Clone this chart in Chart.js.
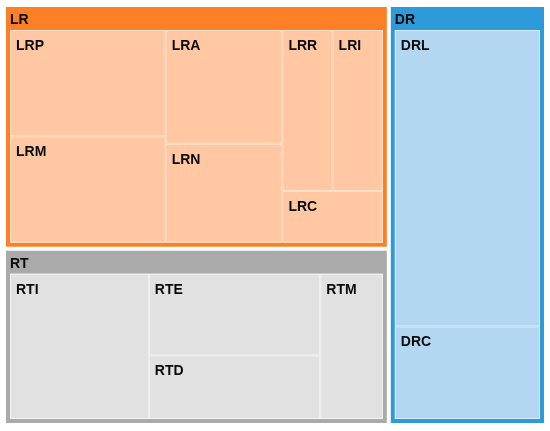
<!DOCTYPE html>
<html>
<head>
<meta charset="utf-8">
<title>Treemap</title>
<script src="https://cdn.jsdelivr.net/npm/chart.js@4.4.1/dist/chart.umd.min.js"></script>
<style>
  html, body { margin: 0; padding: 0; background: #fff; }
  #wrap { width: 550px; height: 431px; }
</style>
</head>
<body>
<div id="wrap"><canvas id="treemapChart"></canvas></div>
<script>
// dados do treemap
const groups = ['LR', 'RT', 'DR'];
const leafNames = ['LRP', 'LRM', 'LRA', 'LRN', 'LRR', 'LRI', 'LRC', 'RTI', 'RTE', 'RTD', 'RTM', 'DRL', 'DRC'];
const leafGroups = ['LR', 'LR', 'LR', 'LR', 'LR', 'LR', 'LR', 'RT', 'RT', 'RT', 'RT', 'DR', 'DR'];
const leafValues = [86, 86, 69, 60, 42, 42, 27, 111, 77, 60, 50, 221, 69];

// cores por grupo
const groupColors = { LR: '#fe8026', RT: '#aaaaaa', DR: '#2d9bda' };
const leafColors = { LR: '#ffc8a2', RT: '#e1e1e1', DR: '#b3d7f1' };
const leafBorders = { LR: '#ffe2cf', RT: '#f3f3f3', DR: '#d8ebf8' };

const RATIO = (1 + Math.sqrt(5)) / 2;

// squarified layout (proporcao aurea)
function squarify(nodes, x0, y0, x1, y1) {
    nodes = nodes.slice().sort((a, b) => b.value - a.value);
    let value = nodes.reduce((s, n) => s + n.value, 0);
    let i0 = 0, i1 = 0;
    while (i0 < nodes.length) {
        const dx = x1 - x0, dy = y1 - y0;
        const len = Math.min(dx, dy);
        const f = len * len * RATIO;
        const scale = dx * dy / value;
        let sum = nodes[i1++].value * scale;
        let min = sum, max = sum;
        let best = Math.max(f * max / (sum * sum), (sum * sum) / (f * min));
        for (; i1 < nodes.length; i1++) {
            const a = nodes[i1].value * scale;
            const s = sum + a;
            const mn = Math.min(min, a), mx = Math.max(max, a);
            const score = Math.max(f * mx / (s * s), (s * s) / (f * mn));
            if (score > best) break;
            sum = s; min = mn; max = mx; best = score;
        }
        const row = nodes.slice(i0, i1);
        const rowValue = row.reduce((s, n) => s + n.value, 0);
        if (dx < dy) {
            const yb = y0 + dy * rowValue / value;
            let x = x0;
            row.forEach(n => {
                const w = dx * n.value / rowValue;
                n.rect = { x0: x, y0: y0, x1: x + w, y1: yb };
                x += w;
            });
            y0 = yb;
        } else {
            const xb = x0 + dx * rowValue / value;
            let y = y0;
            row.forEach(n => {
                const h = dy * n.value / rowValue;
                n.rect = { x0: x0, y0: y, x1: xb, y1: y + h };
                y += h;
            });
            x0 = xb;
        }
        value -= rowValue;
        i0 = i1;
    }
    return nodes;
}

const treemapPlugin = {
    id: 'treemapDraw',
    afterDatasetsDraw(chart) {
        const ctx = chart.ctx;
        const xs = chart.scales.x, ys = chart.scales.y;
        const left = xs.getPixelForValue(0), right = xs.getPixelForValue(1);
        const top = ys.getPixelForValue(1), bottom = ys.getPixelForValue(0);

        const groupNodes = groups.map(g => ({
            name: g,
            value: leafValues.reduce((s, v, i) => s + (leafGroups[i] === g ? v : 0), 0)
        }));
        const gap = 2, inset = 4, header = 23;

        ctx.save();
        ctx.font = 'bold 14px "Liberation Sans", Arial, sans-serif';
        ctx.textBaseline = 'alphabetic';

        squarify(groupNodes, left, top, right, bottom).forEach(g => {
            const r = { x0: g.rect.x0 + gap, y0: g.rect.y0 + gap, x1: g.rect.x1 - gap, y1: g.rect.y1 - gap };
            ctx.fillStyle = groupColors[g.name];
            ctx.fillRect(r.x0, r.y0, r.x1 - r.x0, r.y1 - r.y0);
            ctx.fillStyle = '#0a0a0a';
            ctx.fillText(g.name, r.x0 + 4, r.y0 + 17);

            const leaves = [];
            leafNames.forEach((n, i) => {
                if (leafGroups[i] === g.name) leaves.push({ name: n, value: leafValues[i] });
            });
            squarify(leaves, r.x0 + inset, r.y0 + header, r.x1 - inset, r.y1 - inset).forEach(l => {
                const b = l.rect;
                ctx.fillStyle = leafColors[g.name];
                ctx.fillRect(b.x0, b.y0, b.x1 - b.x0, b.y1 - b.y0);
                ctx.strokeStyle = leafBorders[g.name];
                ctx.lineWidth = 1;
                ctx.strokeRect(b.x0 + 0.5, b.y0 + 0.5, b.x1 - b.x0 - 1, b.y1 - b.y0 - 1);
                ctx.fillStyle = '#0a0a0a';
                ctx.fillText(l.name, b.x0 + 6, b.y0 + 20);
            });
        });
        ctx.restore();
    }
};

const ctx = document.getElementById('treemapChart').getContext('2d');
const chart = new Chart(ctx, {
    type: 'scatter',
    data: {
        datasets: [{ data: [], pointRadius: 0 }]
    },
    options: {
        responsive: true,
        maintainAspectRatio: false,
        animation: false,
        layout: { padding: { left: 4, right: 4, top: 5, bottom: 6 } },
        scales: {
            x: { type: 'linear', min: 0, max: 1, display: false },
            y: { type: 'linear', min: 0, max: 1, display: false }
        },
        plugins: {
            legend: { display: false },
            tooltip: { enabled: false }
        }
    },
    plugins: [treemapPlugin]
});
</script>
</body>
</html>
